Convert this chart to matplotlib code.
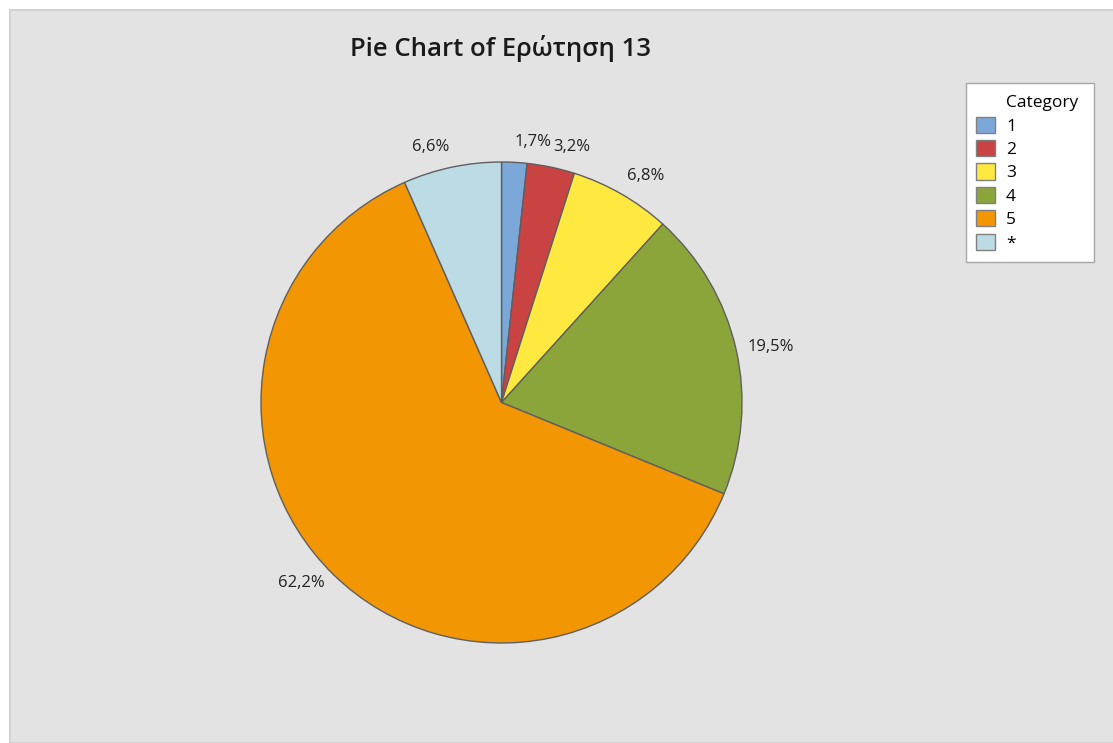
import matplotlib
matplotlib.use("Agg")
import matplotlib.pyplot as plt
from matplotlib.patches import Rectangle, Patch

# Dados
categorias = ["1", "2", "3", "4", "5", "*"]
percentuais = [1.7, 3.2, 6.8, 19.5, 62.2, 6.6]
rotulos = ["1,7%", "3,2%", "6,8%", "19,5%", "62,2%", "6,6%"]
cores = ["#7ba7d9", "#c94343", "#ffe840", "#8ba53a", "#f39603", "#bddbe5"]
titulo = "Pie Chart of Ερώτηση 13"

plt.rcParams["font.family"] = ["Open Sans", "DejaVu Sans"]


def gerar_grafico():
    fig = plt.figure(figsize=(11.13, 7.43), dpi=100)
    fig.patch.set_facecolor("white")

    # fundo cinza com borda
    fundo = Rectangle((10 / 1113, 0), 1, 733 / 743, transform=fig.transFigure,
                      facecolor="#e3e3e3", edgecolor="#d2d2d2", linewidth=1.5, zorder=-5)
    fig.patches.append(fundo)

    ax = fig.add_axes([261 / 1113, 100 / 743, 481 / 1113, 481 / 743])
    ax.set_facecolor("none")
    ax.set_zorder(2)
    wedges, textos = ax.pie(percentuais, labels=rotulos, colors=cores, startangle=90,
                            counterclock=False, labeldistance=1.05,
                            wedgeprops={"edgecolor": "#5f5f5f", "linewidth": 1.0},
                            textprops={"fontsize": 12, "color": "#222222"})
    # alinhamento dos rótulos conforme o lado da pizza
    for t in textos:
        x, y = t.get_position()
        t.set_horizontalalignment("left" if x >= 0 else "right")
        t.set_verticalalignment("bottom" if y > 0.8 * 1.05 else "center")
    ax.set_xlim(-1, 1)
    ax.set_ylim(-1, 1)
    ax.set_aspect("equal")

    fig.text(501 / 1113, 1 - 48 / 743, titulo, ha="center", va="center",
             fontsize=18.5, fontweight="semibold", color="#1a1a1a")

    # legenda: "Category" como primeira linha sem marcador
    handles = [Patch(facecolor="none", edgecolor="none")]
    handles += [Patch(facecolor=c, edgecolor="#808080", linewidth=1.0) for c in cores]
    labels = ["Category"] + categorias
    leg = fig.legend(handles, labels, loc="upper left",
                     bbox_to_anchor=(966 / 1113, 1 - 263 / 743, 128 / 1113, 180 / 743),
                     mode="expand", frameon=True, fancybox=False, framealpha=1,
                     facecolor="white", fontsize=12.5,
                     handlelength=1.05, handleheight=1.05, handletextpad=0.65,
                     labelspacing=0.31, borderpad=0.6, borderaxespad=0)
    leg.get_frame().set_edgecolor("#a8a8a8")
    leg.get_frame().set_linewidth(1.0)
    leg.set_zorder(3)

    fig.savefig("out.png", dpi=100, facecolor=fig.get_facecolor())


if __name__ == "__main__":
    gerar_grafico()
